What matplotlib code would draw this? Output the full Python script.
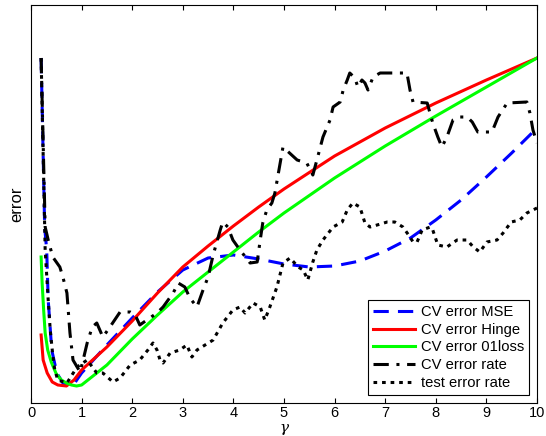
import matplotlib
matplotlib.use("Agg")
import matplotlib.pyplot as plt

plt.rcParams['font.family'] = ['Liberation Sans', 'DejaVu Sans']

# valeurs (echelle d'erreur arbitraire, pas de graduation en y)
x_hinge = [0.2, 0.24, 0.32, 0.42, 0.53, 0.7, 0.85, 1.0, 1.5, 2, 2.5, 3, 3.5, 4, 4.5, 5, 6, 7, 8, 9, 10]
err_hinge = [68, 43, 30, 21, 18, 17, 23, 33, 56, 82, 110, 136, 157, 177, 196, 214, 247, 275, 300, 323, 345]

x_01 = [0.2, 0.22, 0.25, 0.28, 0.33, 0.4, 0.5, 0.6, 0.7, 0.8, 0.9, 1.0, 1.5, 2, 2.5, 3, 3.5, 4, 4.5, 5,
        6, 6.5, 7, 8, 9, 10]
err_01 = [146, 120, 93, 70, 53, 41, 29, 23, 20, 18, 17, 18, 38, 64, 88, 111, 131, 151, 171, 190,
          225, 241, 257, 287, 316, 345]

x_mse = [0.2, 0.27, 0.31, 0.34, 0.41, 0.51, 0.63, 0.75, 0.85, 1.0, 1.5, 2, 2.5, 3, 3.5, 4, 4.5, 5,
         5.5, 6, 6.5, 7, 7.5, 8, 8.5, 9, 9.5, 10]
err_mse = [345, 176, 153, 103, 53, 30, 20, 17, 19, 30, 58, 85, 111, 133, 145, 148, 144, 139,
           136, 137, 142, 152, 165, 183, 203, 226, 250, 275]

x_cv = [0.2, 0.28, 0.34, 0.43, 0.57, 0.63, 0.71, 0.77, 0.83, 0.97, 1.03, 1.11, 1.21, 1.30, 1.42,
        1.56, 1.76, 1.96, 2.06, 2.15, 2.29, 2.49, 2.61, 2.81, 2.91, 3.04, 3.14, 3.28, 3.40, 3.50,
        3.60, 3.74, 3.79, 3.89, 3.99, 4.13, 4.33, 4.47, 4.53, 4.58, 4.66, 4.76, 4.82, 4.98, 5.26,
        5.45, 5.57, 5.65, 5.77, 5.91, 5.97, 6.11, 6.17, 6.25, 6.30, 6.40, 6.46, 6.54, 6.60, 6.66,
        6.76, 6.90, 7.43, 7.49, 7.55, 7.83, 7.94, 8.04, 8.12, 8.22, 8.34, 8.48, 8.62, 8.72, 8.83,
        9.11, 9.23, 9.41, 9.80, 9.86, 9.92, 10.0]
err_cv = [345, 176, 163, 146, 136, 126, 110, 70, 43, 31, 43, 60, 76, 80, 66,
          76, 91, 91, 88, 78, 83, 90, 96, 110, 120, 116, 105, 96, 113, 126,
          148, 173, 181, 176, 163, 153, 140, 141, 163, 180, 193, 200, 210, 256, 243,
          240, 228, 243, 266, 283, 296, 301, 313, 323, 330, 325, 316, 323, 320, 313,
          326, 330, 330, 313, 301, 300, 280, 266, 256, 266, 283, 286, 286, 281, 271,
          271, 286, 300, 301, 290, 273, 260]

x_test = [0.2, 0.28, 0.34, 0.38, 0.43, 0.47, 0.53, 0.71, 0.91, 1.11, 1.30, 1.42, 1.62, 1.76, 1.96,
          2.15, 2.31, 2.41, 2.49, 2.55, 2.61, 2.75, 2.94, 3.08, 3.18, 3.28, 3.60, 3.79, 3.99, 4.13,
          4.23, 4.39, 4.53, 4.62, 4.72, 4.86, 4.98, 5.12, 5.28, 5.38, 5.47, 5.57, 5.65, 5.77, 5.97,
          6.15, 6.25, 6.36, 6.50, 6.60, 6.70, 6.84, 7.04, 7.19, 7.35, 7.49, 7.55, 7.63, 7.73, 7.89,
          7.94, 8.04, 8.22, 8.42, 8.62, 8.74, 8.87, 9.01, 9.21, 9.33, 9.49, 9.66, 9.80, 9.92, 10.0]
err_test = [345, 153, 103, 73, 48, 33, 23, 20, 36, 43, 30, 30, 21, 25, 38,
            43, 53, 60, 53, 43, 40, 50, 53, 58, 46, 53, 63, 80, 93, 96,
            90, 100, 96, 83, 96, 116, 140, 145, 136, 133, 123, 141, 153, 163, 176,
            181, 193, 200, 196, 180, 176, 178, 181, 181, 176, 166, 161, 161, 173, 176,
            173, 158, 156, 163, 163, 156, 151, 161, 163, 170, 181, 183, 190, 193, 195]

xticks = list(range(0, 11))

fig = plt.figure(figsize=(5.46, 4.36), dpi=100)
ax = fig.add_axes([31 / 546, 33 / 436, 506 / 546, 398 / 436])

ax.plot(x_mse, err_mse, color=(0, 0, 1), lw=2.2, ls=(0, (5, 3)), label='CV error MSE')
ax.plot(x_hinge, err_hinge, color=(1, 0, 0), lw=2.2, label='CV error Hinge')
ax.plot(x_01, err_01, color=(0, 1, 0), lw=2.2, label='CV error 01loss')
ax.plot(x_cv, err_cv, color='k', lw=2.2, ls=(0, (5, 2.5, 1, 2.5)), label='CV error rate')
ax.plot(x_test, err_test, color='k', lw=2.2, ls=(0, (1.2, 1.6)), label='test error rate')

ax.set_xlim(0, 10)
ax.set_ylim(0, 398)
ax.set_xticks(xticks)
ax.set_yticks([])
ax.tick_params(axis='x', direction='in', top=True, length=3.5, labelsize=10.5, pad=2.5)
ax.set_xlabel('γ', fontsize=11, fontstyle='italic', family='DejaVu Serif')
ax.xaxis.set_label_coords(0.5, -0.046)
ax.set_ylabel('error', fontsize=12, labelpad=5)

leg = ax.legend(loc='lower right', fontsize=10.6, frameon=True, fancybox=False,
                framealpha=1, edgecolor='k', handlelength=2.9, handletextpad=0.35,
                labelspacing=0.25, borderpad=0.35, borderaxespad=0.55)
leg.get_frame().set_linewidth(0.8)

fig.savefig('out.png', dpi=100)
